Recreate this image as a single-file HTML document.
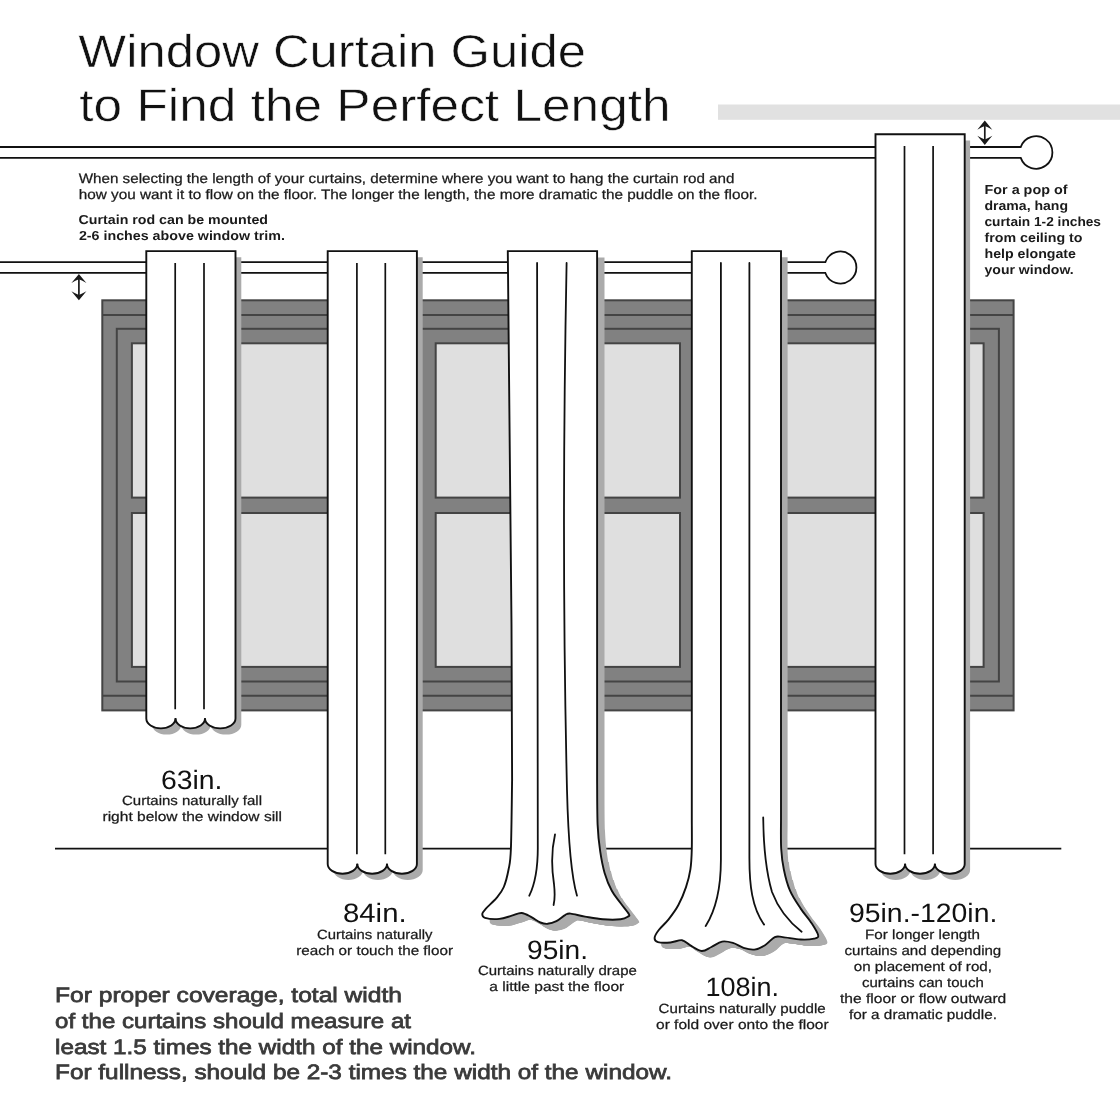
<!DOCTYPE html>
<html><head><meta charset="utf-8"><title>Window Curtain Guide</title>
<style>
html,body{margin:0;padding:0;background:#fff;}
body{width:1120px;height:1120px;overflow:hidden;font-family:"Liberation Sans",sans-serif;}
svg{display:block;font-family:"Liberation Sans",sans-serif;}
text{text-rendering:geometricPrecision;}
.thin{stroke:#fff;stroke-width:0.55px;paint-order:fill stroke;}
.thin2{}
.bthin{}
.med{stroke:#3a3a3a;stroke-width:0.75px;}
.reg{stroke:#1a1a1a;stroke-width:0.25px;}
</style></head><body>
<svg width="1120" height="1120" viewBox="0 0 1120 1120">
<defs><clipPath id="lc0"><rect x="0" y="862" width="1120" height="300"/></clipPath><clipPath id="lc1"><rect x="0" y="871" width="1120" height="300"/></clipPath><clipPath id="lc2"><rect x="0" y="880" width="1120" height="300"/></clipPath><clipPath id="lc3"><rect x="0" y="889" width="1120" height="300"/></clipPath><clipPath id="lc4"><rect x="0" y="898" width="1120" height="300"/></clipPath></defs>
<rect width="1120" height="1120" fill="#fff"/>

<rect x="718" y="104.5" width="402" height="15.3" fill="#e1e1e1"/>
<g stroke="#444" stroke-width="2" fill="none">
<rect x="102.3" y="300.3" width="911.3" height="410.1" fill="#818181"/>
<path d="M102.3 315H1013.6M102.3 695.8H1013.6"/>
<rect x="116.8" y="328.8" width="882.1" height="352.7"/>
<rect x="131.9" y="343.3" width="285.1" height="154.3" fill="#dfdfdf"/>
<rect x="131.9" y="513.0" width="285.1" height="153.9" fill="#dfdfdf"/>
<rect x="435.7" y="343.3" width="244.3" height="154.3" fill="#dfdfdf"/>
<rect x="435.7" y="513.0" width="244.3" height="153.9" fill="#dfdfdf"/>
<rect x="700" y="343.3" width="283.6" height="154.3" fill="#dfdfdf"/>
<rect x="700" y="513.0" width="283.6" height="153.9" fill="#dfdfdf"/>
</g>
<path d="M55 848.65H1061.3" stroke="#111" stroke-width="1.6" fill="none"/>
<path d="M-5 147.0H1020.74A16.3 16.3 0 1 1 1020.74 157.9H-5" fill="#fff" stroke="#111" stroke-width="1.8"/>
<path d="M-5 262.1H825.35A16.0 16.0 0 1 1 825.35 272.95H-5" fill="#fff" stroke="#111" stroke-width="1.8"/>
<path d="M146.3 251.1V718.5A14.60 9.90 0 0 0 175.5 718.5A14.75 9.90 0 0 0 205.0 718.5A15.25 9.90 0 0 0 235.5 718.5V251.1Z" transform="translate(5.8,6.2)" fill="#ababab"/><path d="M146.3 251.1V718.5A14.60 9.90 0 0 0 175.5 718.5A14.75 9.90 0 0 0 205.0 718.5A15.25 9.90 0 0 0 235.5 718.5V251.1Z" fill="#fff" stroke="#111" stroke-width="1.9" stroke-linejoin="miter"/><path d="M175.2 263V709.3M204.0 263V709.3M175.5 718.0v4M205.0 718.0v4" fill="none" stroke="#111" stroke-width="1.7"/>
<path d="M327.7 251.1V863.9A14.80 9.90 0 0 0 357.3 863.9A14.85 9.90 0 0 0 387.0 863.9A14.95 9.90 0 0 0 416.9 863.9V251.1Z" transform="translate(5.8,6.2)" fill="#ababab"/><path d="M327.7 251.1V863.9A14.80 9.90 0 0 0 357.3 863.9A14.85 9.90 0 0 0 387.0 863.9A14.95 9.90 0 0 0 416.9 863.9V251.1Z" fill="#fff" stroke="#111" stroke-width="1.9" stroke-linejoin="miter"/><path d="M356.9 263V854.3M385.3 263V854.3M357.3 863.4v4M387.0 863.4v4" fill="none" stroke="#111" stroke-width="1.7"/>
<path d="M875.5 134.2V863.9A14.80 9.90 0 0 0 905.1 863.9A14.90 9.90 0 0 0 934.9 863.9A14.90 9.90 0 0 0 964.7 863.9V134.2Z" transform="translate(5.4,6.2)" fill="#ababab"/><path d="M875.5 134.2V863.9A14.80 9.90 0 0 0 905.1 863.9A14.90 9.90 0 0 0 934.9 863.9A14.90 9.90 0 0 0 964.7 863.9V134.2Z" fill="#fff" stroke="#111" stroke-width="1.9" stroke-linejoin="miter"/><path d="M904.5 146V854.3M933.1 146V854.3M905.1 863.4v4M934.9 863.4v4" fill="none" stroke="#111" stroke-width="1.7"/>
<path d="M597.1 251.1H507.8C509.9 400 511.8 600 512.1 780C511.9 791.5 511.5 833.9 510.9 848.8C510.3 863.6 509.8 862.9 508.6 869.3C507.4 875.7 505.8 882.2 503.8 887.0C501.8 891.8 499.6 894.3 496.6 897.9C493.6 901.5 488.3 905.9 485.9 908.6C483.5 911.3 482.4 912.4 482.3 913.9C482.2 915.4 482.2 917.1 485.0 917.9C487.8 918.7 494.8 919.3 499.3 918.9C503.8 918.5 508.1 916.7 511.8 915.7C515.5 914.7 518.3 912.8 521.6 913.0C524.9 913.2 528.3 915.5 531.4 917.1C534.5 918.7 537.7 921.4 540.4 922.5C543.1 923.6 544.8 924.0 547.5 923.8C550.2 923.5 553.4 922.6 556.4 921.1C559.4 919.6 563.0 916.0 565.4 914.8C567.8 913.5 567.4 913.3 570.7 913.6C574.0 913.9 579.6 915.7 585.0 916.6C590.4 917.5 596.9 918.8 602.9 919.3C608.9 919.8 616.5 919.8 620.7 919.3C624.9 918.8 626.6 917.5 627.9 916.6C629.2 915.7 630.0 916.1 628.8 913.9C627.5 911.7 623.5 907.1 620.7 903.2C617.9 899.3 614.5 895.8 611.8 890.7C609.1 885.7 606.5 879.5 604.6 872.9C602.7 866.3 601.4 859.4 600.2 851.4C599.0 843.4 598.1 836.5 597.6 824.6C597.1 812.7 597.2 787.4 597.1 780.0Z" transform="translate(7.4,6.50)" fill="#ababab"/><g clip-path="url(#lc0)"><path d="M597.1 251.1H507.8C509.9 400 511.8 600 512.1 780C511.9 791.5 511.5 833.9 510.9 848.8C510.3 863.6 509.8 862.9 508.6 869.3C507.4 875.7 505.8 882.2 503.8 887.0C501.8 891.8 499.6 894.3 496.6 897.9C493.6 901.5 488.3 905.9 485.9 908.6C483.5 911.3 482.4 912.4 482.3 913.9C482.2 915.4 482.2 917.1 485.0 917.9C487.8 918.7 494.8 919.3 499.3 918.9C503.8 918.5 508.1 916.7 511.8 915.7C515.5 914.7 518.3 912.8 521.6 913.0C524.9 913.2 528.3 915.5 531.4 917.1C534.5 918.7 537.7 921.4 540.4 922.5C543.1 923.6 544.8 924.0 547.5 923.8C550.2 923.5 553.4 922.6 556.4 921.1C559.4 919.6 563.0 916.0 565.4 914.8C567.8 913.5 567.4 913.3 570.7 913.6C574.0 913.9 579.6 915.7 585.0 916.6C590.4 917.5 596.9 918.8 602.9 919.3C608.9 919.8 616.5 919.8 620.7 919.3C624.9 918.8 626.6 917.5 627.9 916.6C629.2 915.7 630.0 916.1 628.8 913.9C627.5 911.7 623.5 907.1 620.7 903.2C617.9 899.3 614.5 895.8 611.8 890.7C609.1 885.7 606.5 879.5 604.6 872.9C602.7 866.3 601.4 859.4 600.2 851.4C599.0 843.4 598.1 836.5 597.6 824.6C597.1 812.7 597.2 787.4 597.1 780.0Z" transform="translate(7.9,6.56)" fill="#ababab"/></g><g clip-path="url(#lc1)"><path d="M597.1 251.1H507.8C509.9 400 511.8 600 512.1 780C511.9 791.5 511.5 833.9 510.9 848.8C510.3 863.6 509.8 862.9 508.6 869.3C507.4 875.7 505.8 882.2 503.8 887.0C501.8 891.8 499.6 894.3 496.6 897.9C493.6 901.5 488.3 905.9 485.9 908.6C483.5 911.3 482.4 912.4 482.3 913.9C482.2 915.4 482.2 917.1 485.0 917.9C487.8 918.7 494.8 919.3 499.3 918.9C503.8 918.5 508.1 916.7 511.8 915.7C515.5 914.7 518.3 912.8 521.6 913.0C524.9 913.2 528.3 915.5 531.4 917.1C534.5 918.7 537.7 921.4 540.4 922.5C543.1 923.6 544.8 924.0 547.5 923.8C550.2 923.5 553.4 922.6 556.4 921.1C559.4 919.6 563.0 916.0 565.4 914.8C567.8 913.5 567.4 913.3 570.7 913.6C574.0 913.9 579.6 915.7 585.0 916.6C590.4 917.5 596.9 918.8 602.9 919.3C608.9 919.8 616.5 919.8 620.7 919.3C624.9 918.8 626.6 917.5 627.9 916.6C629.2 915.7 630.0 916.1 628.8 913.9C627.5 911.7 623.5 907.1 620.7 903.2C617.9 899.3 614.5 895.8 611.8 890.7C609.1 885.7 606.5 879.5 604.6 872.9C602.7 866.3 601.4 859.4 600.2 851.4C599.0 843.4 598.1 836.5 597.6 824.6C597.1 812.7 597.2 787.4 597.1 780.0Z" transform="translate(8.4,6.62)" fill="#ababab"/></g><g clip-path="url(#lc2)"><path d="M597.1 251.1H507.8C509.9 400 511.8 600 512.1 780C511.9 791.5 511.5 833.9 510.9 848.8C510.3 863.6 509.8 862.9 508.6 869.3C507.4 875.7 505.8 882.2 503.8 887.0C501.8 891.8 499.6 894.3 496.6 897.9C493.6 901.5 488.3 905.9 485.9 908.6C483.5 911.3 482.4 912.4 482.3 913.9C482.2 915.4 482.2 917.1 485.0 917.9C487.8 918.7 494.8 919.3 499.3 918.9C503.8 918.5 508.1 916.7 511.8 915.7C515.5 914.7 518.3 912.8 521.6 913.0C524.9 913.2 528.3 915.5 531.4 917.1C534.5 918.7 537.7 921.4 540.4 922.5C543.1 923.6 544.8 924.0 547.5 923.8C550.2 923.5 553.4 922.6 556.4 921.1C559.4 919.6 563.0 916.0 565.4 914.8C567.8 913.5 567.4 913.3 570.7 913.6C574.0 913.9 579.6 915.7 585.0 916.6C590.4 917.5 596.9 918.8 602.9 919.3C608.9 919.8 616.5 919.8 620.7 919.3C624.9 918.8 626.6 917.5 627.9 916.6C629.2 915.7 630.0 916.1 628.8 913.9C627.5 911.7 623.5 907.1 620.7 903.2C617.9 899.3 614.5 895.8 611.8 890.7C609.1 885.7 606.5 879.5 604.6 872.9C602.7 866.3 601.4 859.4 600.2 851.4C599.0 843.4 598.1 836.5 597.6 824.6C597.1 812.7 597.2 787.4 597.1 780.0Z" transform="translate(8.9,6.68)" fill="#ababab"/></g><g clip-path="url(#lc3)"><path d="M597.1 251.1H507.8C509.9 400 511.8 600 512.1 780C511.9 791.5 511.5 833.9 510.9 848.8C510.3 863.6 509.8 862.9 508.6 869.3C507.4 875.7 505.8 882.2 503.8 887.0C501.8 891.8 499.6 894.3 496.6 897.9C493.6 901.5 488.3 905.9 485.9 908.6C483.5 911.3 482.4 912.4 482.3 913.9C482.2 915.4 482.2 917.1 485.0 917.9C487.8 918.7 494.8 919.3 499.3 918.9C503.8 918.5 508.1 916.7 511.8 915.7C515.5 914.7 518.3 912.8 521.6 913.0C524.9 913.2 528.3 915.5 531.4 917.1C534.5 918.7 537.7 921.4 540.4 922.5C543.1 923.6 544.8 924.0 547.5 923.8C550.2 923.5 553.4 922.6 556.4 921.1C559.4 919.6 563.0 916.0 565.4 914.8C567.8 913.5 567.4 913.3 570.7 913.6C574.0 913.9 579.6 915.7 585.0 916.6C590.4 917.5 596.9 918.8 602.9 919.3C608.9 919.8 616.5 919.8 620.7 919.3C624.9 918.8 626.6 917.5 627.9 916.6C629.2 915.7 630.0 916.1 628.8 913.9C627.5 911.7 623.5 907.1 620.7 903.2C617.9 899.3 614.5 895.8 611.8 890.7C609.1 885.7 606.5 879.5 604.6 872.9C602.7 866.3 601.4 859.4 600.2 851.4C599.0 843.4 598.1 836.5 597.6 824.6C597.1 812.7 597.2 787.4 597.1 780.0Z" transform="translate(9.4,6.74)" fill="#ababab"/></g><g clip-path="url(#lc4)"><path d="M597.1 251.1H507.8C509.9 400 511.8 600 512.1 780C511.9 791.5 511.5 833.9 510.9 848.8C510.3 863.6 509.8 862.9 508.6 869.3C507.4 875.7 505.8 882.2 503.8 887.0C501.8 891.8 499.6 894.3 496.6 897.9C493.6 901.5 488.3 905.9 485.9 908.6C483.5 911.3 482.4 912.4 482.3 913.9C482.2 915.4 482.2 917.1 485.0 917.9C487.8 918.7 494.8 919.3 499.3 918.9C503.8 918.5 508.1 916.7 511.8 915.7C515.5 914.7 518.3 912.8 521.6 913.0C524.9 913.2 528.3 915.5 531.4 917.1C534.5 918.7 537.7 921.4 540.4 922.5C543.1 923.6 544.8 924.0 547.5 923.8C550.2 923.5 553.4 922.6 556.4 921.1C559.4 919.6 563.0 916.0 565.4 914.8C567.8 913.5 567.4 913.3 570.7 913.6C574.0 913.9 579.6 915.7 585.0 916.6C590.4 917.5 596.9 918.8 602.9 919.3C608.9 919.8 616.5 919.8 620.7 919.3C624.9 918.8 626.6 917.5 627.9 916.6C629.2 915.7 630.0 916.1 628.8 913.9C627.5 911.7 623.5 907.1 620.7 903.2C617.9 899.3 614.5 895.8 611.8 890.7C609.1 885.7 606.5 879.5 604.6 872.9C602.7 866.3 601.4 859.4 600.2 851.4C599.0 843.4 598.1 836.5 597.6 824.6C597.1 812.7 597.2 787.4 597.1 780.0Z" transform="translate(9.9,6.80)" fill="#ababab"/></g>
<path d="M597.1 251.1H507.8C509.9 400 511.8 600 512.1 780C511.9 791.5 511.5 833.9 510.9 848.8C510.3 863.6 509.8 862.9 508.6 869.3C507.4 875.7 505.8 882.2 503.8 887.0C501.8 891.8 499.6 894.3 496.6 897.9C493.6 901.5 488.3 905.9 485.9 908.6C483.5 911.3 482.4 912.4 482.3 913.9C482.2 915.4 482.2 917.1 485.0 917.9C487.8 918.7 494.8 919.3 499.3 918.9C503.8 918.5 508.1 916.7 511.8 915.7C515.5 914.7 518.3 912.8 521.6 913.0C524.9 913.2 528.3 915.5 531.4 917.1C534.5 918.7 537.7 921.4 540.4 922.5C543.1 923.6 544.8 924.0 547.5 923.8C550.2 923.5 553.4 922.6 556.4 921.1C559.4 919.6 563.0 916.0 565.4 914.8C567.8 913.5 567.4 913.3 570.7 913.6C574.0 913.9 579.6 915.7 585.0 916.6C590.4 917.5 596.9 918.8 602.9 919.3C608.9 919.8 616.5 919.8 620.7 919.3C624.9 918.8 626.6 917.5 627.9 916.6C629.2 915.7 630.0 916.1 628.8 913.9C627.5 911.7 623.5 907.1 620.7 903.2C617.9 899.3 614.5 895.8 611.8 890.7C609.1 885.7 606.5 879.5 604.6 872.9C602.7 866.3 601.4 859.4 600.2 851.4C599.0 843.4 598.1 836.5 597.6 824.6C597.1 812.7 597.2 787.4 597.1 780.0Z" fill="#fff" stroke="#111" stroke-width="1.9" stroke-linejoin="miter"/>
<path d="M537.1 263 L537.8 848 C537.8 868 535 884 529.3 895.7 M566.6 263 C563 450 563 620 567 790 C568 830 570 872 577 895.7 M555 834.5 C551.5 850 551.5 868 554 884 C555 893 555 899 553.6 905" fill="none" stroke="#111" stroke-width="1.8" stroke-linecap="round"/>
<path d="M781.0 251.1H691.8V820C691.8 824.8 692.0 840.5 691.8 848.8C691.6 857.0 691.4 862.9 690.4 869.3C689.4 875.7 688.0 881.1 686.0 887.1C684.0 893.1 681.3 899.6 678.4 905.0C675.5 910.4 671.9 915.1 668.6 919.3C665.3 923.5 661.1 926.9 658.8 930.0C656.4 933.1 654.7 936.0 654.6 938.0C654.5 940.0 655.3 941.4 657.9 942.1C660.5 942.9 666.4 942.8 670.4 942.5C674.4 942.2 678.7 939.8 682.0 940.2C685.3 940.7 686.7 943.4 690.0 945.2C693.3 947.0 698.0 950.7 701.6 951.0C705.2 951.3 708.0 948.6 711.4 947.0C714.8 945.4 718.5 942.3 722.1 941.6C725.7 940.9 729.3 941.9 732.9 942.9C736.5 943.9 740.0 946.8 743.6 947.9C747.2 949.0 750.7 950.0 754.3 949.6C757.9 949.2 761.6 947.3 765.0 945.2C768.4 943.1 771.8 938.5 774.8 937.1C777.8 935.8 778.6 936.7 782.9 937.1C787.2 937.5 795.5 939.2 800.7 939.5C805.9 939.8 811.2 939.3 814.1 938.6C817.0 937.9 818.7 938.0 818.2 935.4C817.8 932.8 814.3 927.4 811.4 922.9C808.5 918.4 804.3 914.0 800.7 908.6C797.1 903.2 792.8 897.2 790.0 890.7C787.2 884.2 785.2 876.3 783.8 869.3C782.3 862.3 781.7 857.0 781.2 848.8C780.7 840.5 781.0 824.8 781.0 820.0Z" transform="translate(6.6,6.10)" fill="#ababab"/><g clip-path="url(#lc0)"><path d="M781.0 251.1H691.8V820C691.8 824.8 692.0 840.5 691.8 848.8C691.6 857.0 691.4 862.9 690.4 869.3C689.4 875.7 688.0 881.1 686.0 887.1C684.0 893.1 681.3 899.6 678.4 905.0C675.5 910.4 671.9 915.1 668.6 919.3C665.3 923.5 661.1 926.9 658.8 930.0C656.4 933.1 654.7 936.0 654.6 938.0C654.5 940.0 655.3 941.4 657.9 942.1C660.5 942.9 666.4 942.8 670.4 942.5C674.4 942.2 678.7 939.8 682.0 940.2C685.3 940.7 686.7 943.4 690.0 945.2C693.3 947.0 698.0 950.7 701.6 951.0C705.2 951.3 708.0 948.6 711.4 947.0C714.8 945.4 718.5 942.3 722.1 941.6C725.7 940.9 729.3 941.9 732.9 942.9C736.5 943.9 740.0 946.8 743.6 947.9C747.2 949.0 750.7 950.0 754.3 949.6C757.9 949.2 761.6 947.3 765.0 945.2C768.4 943.1 771.8 938.5 774.8 937.1C777.8 935.8 778.6 936.7 782.9 937.1C787.2 937.5 795.5 939.2 800.7 939.5C805.9 939.8 811.2 939.3 814.1 938.6C817.0 937.9 818.7 938.0 818.2 935.4C817.8 932.8 814.3 927.4 811.4 922.9C808.5 918.4 804.3 914.0 800.7 908.6C797.1 903.2 792.8 897.2 790.0 890.7C787.2 884.2 785.2 876.3 783.8 869.3C782.3 862.3 781.7 857.0 781.2 848.8C780.7 840.5 781.0 824.8 781.0 820.0Z" transform="translate(7.1,6.16)" fill="#ababab"/></g><g clip-path="url(#lc1)"><path d="M781.0 251.1H691.8V820C691.8 824.8 692.0 840.5 691.8 848.8C691.6 857.0 691.4 862.9 690.4 869.3C689.4 875.7 688.0 881.1 686.0 887.1C684.0 893.1 681.3 899.6 678.4 905.0C675.5 910.4 671.9 915.1 668.6 919.3C665.3 923.5 661.1 926.9 658.8 930.0C656.4 933.1 654.7 936.0 654.6 938.0C654.5 940.0 655.3 941.4 657.9 942.1C660.5 942.9 666.4 942.8 670.4 942.5C674.4 942.2 678.7 939.8 682.0 940.2C685.3 940.7 686.7 943.4 690.0 945.2C693.3 947.0 698.0 950.7 701.6 951.0C705.2 951.3 708.0 948.6 711.4 947.0C714.8 945.4 718.5 942.3 722.1 941.6C725.7 940.9 729.3 941.9 732.9 942.9C736.5 943.9 740.0 946.8 743.6 947.9C747.2 949.0 750.7 950.0 754.3 949.6C757.9 949.2 761.6 947.3 765.0 945.2C768.4 943.1 771.8 938.5 774.8 937.1C777.8 935.8 778.6 936.7 782.9 937.1C787.2 937.5 795.5 939.2 800.7 939.5C805.9 939.8 811.2 939.3 814.1 938.6C817.0 937.9 818.7 938.0 818.2 935.4C817.8 932.8 814.3 927.4 811.4 922.9C808.5 918.4 804.3 914.0 800.7 908.6C797.1 903.2 792.8 897.2 790.0 890.7C787.2 884.2 785.2 876.3 783.8 869.3C782.3 862.3 781.7 857.0 781.2 848.8C780.7 840.5 781.0 824.8 781.0 820.0Z" transform="translate(7.6,6.22)" fill="#ababab"/></g><g clip-path="url(#lc2)"><path d="M781.0 251.1H691.8V820C691.8 824.8 692.0 840.5 691.8 848.8C691.6 857.0 691.4 862.9 690.4 869.3C689.4 875.7 688.0 881.1 686.0 887.1C684.0 893.1 681.3 899.6 678.4 905.0C675.5 910.4 671.9 915.1 668.6 919.3C665.3 923.5 661.1 926.9 658.8 930.0C656.4 933.1 654.7 936.0 654.6 938.0C654.5 940.0 655.3 941.4 657.9 942.1C660.5 942.9 666.4 942.8 670.4 942.5C674.4 942.2 678.7 939.8 682.0 940.2C685.3 940.7 686.7 943.4 690.0 945.2C693.3 947.0 698.0 950.7 701.6 951.0C705.2 951.3 708.0 948.6 711.4 947.0C714.8 945.4 718.5 942.3 722.1 941.6C725.7 940.9 729.3 941.9 732.9 942.9C736.5 943.9 740.0 946.8 743.6 947.9C747.2 949.0 750.7 950.0 754.3 949.6C757.9 949.2 761.6 947.3 765.0 945.2C768.4 943.1 771.8 938.5 774.8 937.1C777.8 935.8 778.6 936.7 782.9 937.1C787.2 937.5 795.5 939.2 800.7 939.5C805.9 939.8 811.2 939.3 814.1 938.6C817.0 937.9 818.7 938.0 818.2 935.4C817.8 932.8 814.3 927.4 811.4 922.9C808.5 918.4 804.3 914.0 800.7 908.6C797.1 903.2 792.8 897.2 790.0 890.7C787.2 884.2 785.2 876.3 783.8 869.3C782.3 862.3 781.7 857.0 781.2 848.8C780.7 840.5 781.0 824.8 781.0 820.0Z" transform="translate(8.1,6.28)" fill="#ababab"/></g><g clip-path="url(#lc3)"><path d="M781.0 251.1H691.8V820C691.8 824.8 692.0 840.5 691.8 848.8C691.6 857.0 691.4 862.9 690.4 869.3C689.4 875.7 688.0 881.1 686.0 887.1C684.0 893.1 681.3 899.6 678.4 905.0C675.5 910.4 671.9 915.1 668.6 919.3C665.3 923.5 661.1 926.9 658.8 930.0C656.4 933.1 654.7 936.0 654.6 938.0C654.5 940.0 655.3 941.4 657.9 942.1C660.5 942.9 666.4 942.8 670.4 942.5C674.4 942.2 678.7 939.8 682.0 940.2C685.3 940.7 686.7 943.4 690.0 945.2C693.3 947.0 698.0 950.7 701.6 951.0C705.2 951.3 708.0 948.6 711.4 947.0C714.8 945.4 718.5 942.3 722.1 941.6C725.7 940.9 729.3 941.9 732.9 942.9C736.5 943.9 740.0 946.8 743.6 947.9C747.2 949.0 750.7 950.0 754.3 949.6C757.9 949.2 761.6 947.3 765.0 945.2C768.4 943.1 771.8 938.5 774.8 937.1C777.8 935.8 778.6 936.7 782.9 937.1C787.2 937.5 795.5 939.2 800.7 939.5C805.9 939.8 811.2 939.3 814.1 938.6C817.0 937.9 818.7 938.0 818.2 935.4C817.8 932.8 814.3 927.4 811.4 922.9C808.5 918.4 804.3 914.0 800.7 908.6C797.1 903.2 792.8 897.2 790.0 890.7C787.2 884.2 785.2 876.3 783.8 869.3C782.3 862.3 781.7 857.0 781.2 848.8C780.7 840.5 781.0 824.8 781.0 820.0Z" transform="translate(8.6,6.34)" fill="#ababab"/></g><g clip-path="url(#lc4)"><path d="M781.0 251.1H691.8V820C691.8 824.8 692.0 840.5 691.8 848.8C691.6 857.0 691.4 862.9 690.4 869.3C689.4 875.7 688.0 881.1 686.0 887.1C684.0 893.1 681.3 899.6 678.4 905.0C675.5 910.4 671.9 915.1 668.6 919.3C665.3 923.5 661.1 926.9 658.8 930.0C656.4 933.1 654.7 936.0 654.6 938.0C654.5 940.0 655.3 941.4 657.9 942.1C660.5 942.9 666.4 942.8 670.4 942.5C674.4 942.2 678.7 939.8 682.0 940.2C685.3 940.7 686.7 943.4 690.0 945.2C693.3 947.0 698.0 950.7 701.6 951.0C705.2 951.3 708.0 948.6 711.4 947.0C714.8 945.4 718.5 942.3 722.1 941.6C725.7 940.9 729.3 941.9 732.9 942.9C736.5 943.9 740.0 946.8 743.6 947.9C747.2 949.0 750.7 950.0 754.3 949.6C757.9 949.2 761.6 947.3 765.0 945.2C768.4 943.1 771.8 938.5 774.8 937.1C777.8 935.8 778.6 936.7 782.9 937.1C787.2 937.5 795.5 939.2 800.7 939.5C805.9 939.8 811.2 939.3 814.1 938.6C817.0 937.9 818.7 938.0 818.2 935.4C817.8 932.8 814.3 927.4 811.4 922.9C808.5 918.4 804.3 914.0 800.7 908.6C797.1 903.2 792.8 897.2 790.0 890.7C787.2 884.2 785.2 876.3 783.8 869.3C782.3 862.3 781.7 857.0 781.2 848.8C780.7 840.5 781.0 824.8 781.0 820.0Z" transform="translate(9.1,6.40)" fill="#ababab"/></g>
<path d="M781.0 251.1H691.8V820C691.8 824.8 692.0 840.5 691.8 848.8C691.6 857.0 691.4 862.9 690.4 869.3C689.4 875.7 688.0 881.1 686.0 887.1C684.0 893.1 681.3 899.6 678.4 905.0C675.5 910.4 671.9 915.1 668.6 919.3C665.3 923.5 661.1 926.9 658.8 930.0C656.4 933.1 654.7 936.0 654.6 938.0C654.5 940.0 655.3 941.4 657.9 942.1C660.5 942.9 666.4 942.8 670.4 942.5C674.4 942.2 678.7 939.8 682.0 940.2C685.3 940.7 686.7 943.4 690.0 945.2C693.3 947.0 698.0 950.7 701.6 951.0C705.2 951.3 708.0 948.6 711.4 947.0C714.8 945.4 718.5 942.3 722.1 941.6C725.7 940.9 729.3 941.9 732.9 942.9C736.5 943.9 740.0 946.8 743.6 947.9C747.2 949.0 750.7 950.0 754.3 949.6C757.9 949.2 761.6 947.3 765.0 945.2C768.4 943.1 771.8 938.5 774.8 937.1C777.8 935.8 778.6 936.7 782.9 937.1C787.2 937.5 795.5 939.2 800.7 939.5C805.9 939.8 811.2 939.3 814.1 938.6C817.0 937.9 818.7 938.0 818.2 935.4C817.8 932.8 814.3 927.4 811.4 922.9C808.5 918.4 804.3 914.0 800.7 908.6C797.1 903.2 792.8 897.2 790.0 890.7C787.2 884.2 785.2 876.3 783.8 869.3C782.3 862.3 781.7 857.0 781.2 848.8C780.7 840.5 781.0 824.8 781.0 820.0Z" fill="#fff" stroke="#111" stroke-width="1.9" stroke-linejoin="miter"/>
<path d="M720.9 263 V860 C720.9 885 717 908 705.7 926.1 M749.4 263 V858 C749.4 885 752 908 764.1 924.6 M763.2 817.5 C763.5 845 765.5 870 772 892 C778 908 788 921 801.6 931.8" fill="none" stroke="#111" stroke-width="1.8" stroke-linecap="round"/>
<path d="M78.9 276.9V297.3" stroke="#1a1a1a" stroke-width="1.7" fill="none"/><path d="M78.9 273.9Q82.4 278.2 86.4 283.0Q82.10000000000001 280.5 78.9 279.29999999999995Q75.7 280.5 71.4 283.0Q75.4 278.2 78.9 273.9Z" fill="#1a1a1a"/><path d="M78.9 300.3Q82.4 296.0 86.4 291.2Q82.10000000000001 293.7 78.9 294.90000000000003Q75.7 293.7 71.4 291.2Q75.4 296.0 78.9 300.3Z" fill="#1a1a1a"/>
<path d="M984.8 123.6V141.9" stroke="#1a1a1a" stroke-width="1.7" fill="none"/><path d="M984.8 120.6Q988.3 124.89999999999999 992.3 129.7Q988.0 127.19999999999999 984.8 126.0Q981.5999999999999 127.19999999999999 977.3 129.7Q981.3 124.89999999999999 984.8 120.6Z" fill="#1a1a1a"/><path d="M984.8 144.9Q988.3 140.6 992.3 135.8Q988.0 138.3 984.8 139.5Q981.5999999999999 138.3 977.3 135.8Q981.3 140.6 984.8 144.9Z" fill="#1a1a1a"/>
<g style="will-change:transform">
<g class="thin">
<text x="78.3" y="67" font-size="46" font-weight="normal" fill="#111" textLength="507.7" lengthAdjust="spacingAndGlyphs" >Window Curtain Guide</text>
<text x="79.3" y="121" font-size="46" font-weight="normal" fill="#111" textLength="591.3" lengthAdjust="spacingAndGlyphs" >to Find the Perfect Length</text>
</g>
<text x="78.7" y="183" font-size="13.7" font-weight="normal" fill="#1a1a1a" textLength="655.8" lengthAdjust="spacingAndGlyphs" class="reg">When selecting the length of your curtains, determine where you want to hang the curtain rod and</text>
<text x="78.7" y="199" font-size="13.7" font-weight="normal" fill="#1a1a1a" textLength="678.8" lengthAdjust="spacingAndGlyphs" class="reg">how you want it to flow on the floor. The longer the length, the more dramatic the puddle on the floor.</text>
<text x="78.6" y="224" font-size="13.0" font-weight="bold" fill="#1a1a1a" textLength="189.4" lengthAdjust="spacingAndGlyphs" class="bthin">Curtain rod can be mounted</text>
<text x="78.9" y="240" font-size="13.0" font-weight="bold" fill="#1a1a1a" textLength="206.1" lengthAdjust="spacingAndGlyphs" class="bthin">2-6 inches above window trim.</text>
<text x="984.5" y="194" font-size="13.0" font-weight="bold" fill="#1a1a1a" textLength="83.0" lengthAdjust="spacingAndGlyphs" class="bthin">For a pop of</text>
<text x="984.5" y="210" font-size="13.0" font-weight="bold" fill="#1a1a1a" textLength="83.5" lengthAdjust="spacingAndGlyphs" class="bthin">drama, hang</text>
<text x="984.5" y="226" font-size="13.0" font-weight="bold" fill="#1a1a1a" textLength="116.5" lengthAdjust="spacingAndGlyphs" class="bthin">curtain 1-2 inches</text>
<text x="984.5" y="242" font-size="13.0" font-weight="bold" fill="#1a1a1a" textLength="98.0" lengthAdjust="spacingAndGlyphs" class="bthin">from ceiling to</text>
<text x="984.5" y="258" font-size="13.0" font-weight="bold" fill="#1a1a1a" textLength="91.5" lengthAdjust="spacingAndGlyphs" class="bthin">help elongate</text>
<text x="984.5" y="274" font-size="13.0" font-weight="bold" fill="#1a1a1a" textLength="89.25" lengthAdjust="spacingAndGlyphs" class="bthin">your window.</text>
<g class="thin2">
<text x="161" y="789" font-size="26.6" font-weight="normal" fill="#111" textLength="61.5" lengthAdjust="spacingAndGlyphs" >63in.</text>
<text x="343" y="922" font-size="26.6" font-weight="normal" fill="#111" textLength="63.6" lengthAdjust="spacingAndGlyphs" >84in.</text>
<text x="527" y="959" font-size="26.6" font-weight="normal" fill="#111" textLength="61" lengthAdjust="spacingAndGlyphs" >95in.</text>
<text x="705.4" y="996" font-size="26.6" font-weight="normal" fill="#111" textLength="73.6" lengthAdjust="spacingAndGlyphs" >108in.</text>
<text x="849" y="922" font-size="26.6" font-weight="normal" fill="#111" textLength="148.3" lengthAdjust="spacingAndGlyphs" >95in.-120in.</text>
</g>
<text x="122" y="805" font-size="13.3" font-weight="normal" fill="#1a1a1a" textLength="140" lengthAdjust="spacingAndGlyphs" class="reg">Curtains naturally fall</text>
<text x="102.5" y="821" font-size="13.3" font-weight="normal" fill="#1a1a1a" textLength="179.5" lengthAdjust="spacingAndGlyphs" class="reg">right below the window sill</text>
<text x="317" y="939" font-size="13.3" font-weight="normal" fill="#1a1a1a" textLength="115.5" lengthAdjust="spacingAndGlyphs" class="reg">Curtains naturally</text>
<text x="296.25" y="955" font-size="13.3" font-weight="normal" fill="#1a1a1a" textLength="156.75" lengthAdjust="spacingAndGlyphs" class="reg">reach or touch the floor</text>
<text x="477.9" y="975" font-size="13.3" font-weight="normal" fill="#1a1a1a" textLength="158.9" lengthAdjust="spacingAndGlyphs" class="reg">Curtains naturally drape</text>
<text x="489.3" y="991" font-size="13.3" font-weight="normal" fill="#1a1a1a" textLength="135.0" lengthAdjust="spacingAndGlyphs" class="reg">a little past the floor</text>
<text x="658.6" y="1013" font-size="13.3" font-weight="normal" fill="#1a1a1a" textLength="167.1" lengthAdjust="spacingAndGlyphs" class="reg">Curtains naturally puddle</text>
<text x="656" y="1029" font-size="13.3" font-weight="normal" fill="#1a1a1a" textLength="172.6" lengthAdjust="spacingAndGlyphs" class="reg">or fold over onto the floor</text>
<text x="865" y="939" font-size="13.3" font-weight="normal" fill="#1a1a1a" textLength="115" lengthAdjust="spacingAndGlyphs" class="reg">For longer length</text>
<text x="844.5" y="955" font-size="13.3" font-weight="normal" fill="#1a1a1a" textLength="156.75" lengthAdjust="spacingAndGlyphs" class="reg">curtains and depending</text>
<text x="853.75" y="971" font-size="13.3" font-weight="normal" fill="#1a1a1a" textLength="138.25" lengthAdjust="spacingAndGlyphs" class="reg">on placement of rod,</text>
<text x="862" y="987" font-size="13.3" font-weight="normal" fill="#1a1a1a" textLength="121.75" lengthAdjust="spacingAndGlyphs" class="reg">curtains can touch</text>
<text x="840" y="1003" font-size="13.3" font-weight="normal" fill="#1a1a1a" textLength="166.25" lengthAdjust="spacingAndGlyphs" class="reg">the floor or flow outward</text>
<text x="849" y="1019" font-size="13.3" font-weight="normal" fill="#1a1a1a" textLength="148" lengthAdjust="spacingAndGlyphs" class="reg">for a dramatic puddle.</text>
<g class="med">
<text x="55.1" y="1002" font-size="20.8" font-weight="normal" fill="#3a3a3a" textLength="346.9" lengthAdjust="spacingAndGlyphs" >For proper coverage, total width</text>
<text x="55.1" y="1028" font-size="20.8" font-weight="normal" fill="#3a3a3a" textLength="355.9" lengthAdjust="spacingAndGlyphs" >of the curtains should measure at</text>
<text x="55.1" y="1054" font-size="20.8" font-weight="normal" fill="#3a3a3a" textLength="420.9" lengthAdjust="spacingAndGlyphs" >least 1.5 times the width of the window.</text>
<text x="55.1" y="1079" font-size="20.8" font-weight="normal" fill="#3a3a3a" textLength="616.9" lengthAdjust="spacingAndGlyphs" >For fullness, should be 2-3 times the width of the window.</text>
</g>
</g>
</svg></body></html>
